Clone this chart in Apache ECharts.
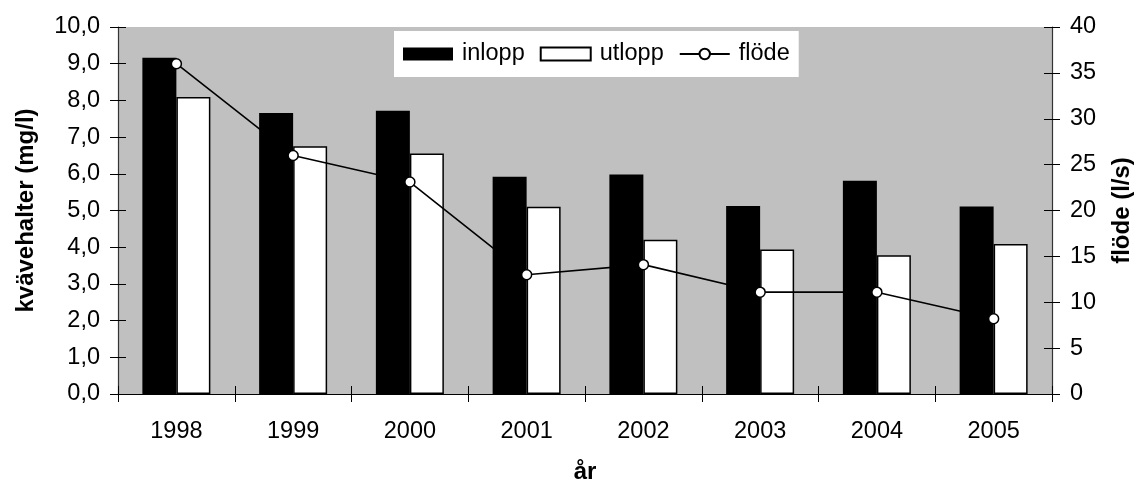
<!DOCTYPE html>
<html>
<head>
<meta charset="utf-8">
<script src="https://cdn.jsdelivr.net/npm/echarts@6/dist/echarts.min.js"></script>
<style>
  html, body { margin: 0; padding: 0; background: #fff; }
  #chart { width: 1136px; height: 486px; }
</style>
</head>
<body>
<div id="chart"></div>
<script>
// Kvävehalter vid inlopp och utlopp samt flöde, 1998–2005
const years = ['1998', '1999', '2000', '2001', '2002', '2003', '2004', '2005'];
const inlopp = [9.16, 7.66, 7.72, 5.92, 5.98, 5.12, 5.81, 5.11];   // mg/l
const utlopp = [8.09, 6.75, 6.55, 5.10, 4.20, 3.94, 3.78, 4.09];   // mg/l
const flode  = [36.0, 26.0, 23.1, 13.0, 14.1, 11.1, 11.1, 8.2];     // l/s

const FONT = '"Liberation Sans", Arial, sans-serif';
const labelStyle = { color: '#000', fontFamily: FONT, fontSize: 23.5 };
const nameStyle = { color: '#000', fontFamily: FONT, fontSize: 24, fontWeight: 'bold' };
const axisLine = { show: true, lineStyle: { color: '#333', width: 1.2 } };
const tickOut = { show: true, length: 8, lineStyle: { color: '#000', width: 1 } };
const tickIn = { show: true, inside: true, length: 8, lineStyle: { color: '#000', width: 1 } };
const comma = v => v.toFixed(1).replace('.', ',');

const chart = echarts.init(document.getElementById('chart'), null, { renderer: 'canvas' });

chart.setOption({
  animation: false,
  backgroundColor: '#fff',
  grid: {
    left: 118, right: 84, top: 27, bottom: 92,
    outerBoundsMode: 'none', containLabel: false,
    show: true, backgroundColor: '#c0c0c0', borderWidth: 0
  },
  legend: {
    left: 394, top: 31,
    orient: 'horizontal',
    backgroundColor: '#fff',
    padding: [11, 9, 11, 9],
    itemWidth: 50, itemHeight: 13, itemGap: 15,
    textStyle: { color: '#000', fontFamily: FONT, fontSize: 23.5, padding: [0, 0, 0, 4] },
    data: [
      { name: 'inlopp', icon: 'rect' },
      { name: 'utlopp', icon: 'rect' },
      { name: 'flöde' }
    ]
  },
  xAxis: [
    {
      type: 'category', data: years, position: 'bottom',
      name: 'år', nameLocation: 'middle', nameGap: 66, nameTextStyle: nameStyle,
      axisLine: { show: true, lineStyle: { color: '#000', width: 1.2 } },
      axisTick: tickOut,
      axisLabel: Object.assign({ margin: 26 }, labelStyle),
      splitLine: { show: false }
    },
    {
      type: 'category', data: years, position: 'bottom',
      axisLine: { show: false }, axisTick: tickIn,
      axisLabel: { show: false }, splitLine: { show: false }
    }
  ],
  yAxis: [
    {
      type: 'value', position: 'left', min: 0, max: 10, interval: 1,
      name: 'kvävehalter (mg/l)', nameLocation: 'middle', nameGap: 80, nameTextStyle: nameStyle,
      axisLine: axisLine, axisTick: tickOut,
      axisLabel: Object.assign({ margin: 18, formatter: comma }, labelStyle),
      splitLine: { show: false }
    },
    {
      type: 'value', position: 'right', min: 0, max: 40, interval: 5,
      name: 'flöde (l/s)', nameLocation: 'middle', nameGap: 58, nameTextStyle: nameStyle,
      axisLine: axisLine, axisTick: tickOut,
      axisLabel: Object.assign({ margin: 18 }, labelStyle),
      splitLine: { show: false }
    },
    {
      type: 'value', position: 'left', min: 0, max: 10, interval: 1,
      axisLine: { show: false }, axisTick: tickIn,
      axisLabel: { show: false }, splitLine: { show: false }
    },
    {
      type: 'value', position: 'right', min: 0, max: 40, interval: 5,
      axisLine: { show: false }, axisTick: tickIn,
      axisLabel: { show: false }, splitLine: { show: false }
    }
  ],
  series: [
    {
      name: 'inlopp', type: 'bar', data: inlopp,
      xAxisIndex: 0, yAxisIndex: 0,
      barWidth: 34, barGap: '0%',
      itemStyle: { color: '#000' }
    },
    {
      name: 'utlopp', type: 'bar', data: utlopp,
      xAxisIndex: 0, yAxisIndex: 0,
      barWidth: 34, barGap: '0%',
      itemStyle: { color: '#fff', borderColor: '#000', borderWidth: 1.5 }
    },
    {
      name: 'flöde', type: 'line', data: flode,
      xAxisIndex: 0, yAxisIndex: 1, z: 5,
      symbol: 'circle', symbolSize: 10,
      lineStyle: { color: '#000', width: 1.6 },
      itemStyle: { color: '#fff', borderColor: '#000', borderWidth: 1.5 }
    }
  ]
});
</script>
</body>
</html>
